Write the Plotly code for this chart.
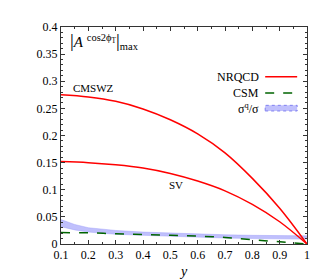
import plotly.graph_objects as go

x_vals = [0.1, 0.2, 0.3, 0.4, 0.5, 0.6, 0.7, 0.8, 0.9, 1.0]
cmswz = [0.275, 0.271, 0.263, 0.249, 0.229, 0.203, 0.168, 0.121, 0.066, 0.0]
sv = [0.152, 0.150, 0.146, 0.140, 0.130, 0.116, 0.098, 0.073, 0.041, 0.0]
csm = [0.021, 0.0205, 0.019, 0.0175, 0.016, 0.0145, 0.012, 0.0078, 0.004, 0.0]
band_x = [0.1, 0.15, 0.2, 0.3, 0.4, 0.5, 0.6, 0.7, 0.8, 0.9, 1.0]
band_lo = [0.032, 0.026, 0.022, 0.018, 0.016, 0.014, 0.012, 0.011, 0.010, 0.009, 0.009]
band_hi = [0.045, 0.036, 0.030, 0.025, 0.022, 0.020, 0.018, 0.017, 0.016, 0.015, 0.015]

FONT = "Liberation Serif"
RED = "#ff0000"
GREEN = "#006400"
BLUE_FILL = "rgba(150,150,250,0.6)"

fig = go.Figure()
fig.add_trace(go.Scatter(x=band_x, y=band_lo, mode="lines",
                         line=dict(color="rgba(150,150,250,0.8)", width=0.5),
                         showlegend=False, hoverinfo="skip"))
fig.add_trace(go.Scatter(x=band_x, y=band_hi, mode="lines", fill="tonexty",
                         fillcolor=BLUE_FILL,
                         line=dict(color="rgba(150,150,250,0.8)", width=0.5),
                         showlegend=False))
fig.add_trace(go.Scatter(x=x_vals, y=csm, mode="lines",
                         line=dict(color=GREEN, width=1.5, dash="dash", shape="spline"),
                         showlegend=False))
fig.add_trace(go.Scatter(x=x_vals, y=cmswz, mode="lines",
                         line=dict(color=RED, width=1.5, shape="spline"),
                         showlegend=False))
fig.add_trace(go.Scatter(x=x_vals, y=sv, mode="lines",
                         line=dict(color=RED, width=1.5, shape="spline"),
                         showlegend=False))

axis_common = dict(showline=True, linecolor="#333", linewidth=1, mirror="ticks",
                   ticks="inside", ticklen=4, tickcolor="#333", showgrid=False,
                   zeroline=False, tickfont=dict(family=FONT, size=12, color="black"))

fig.update_xaxes(range=[0.1, 1.0], dtick=0.1, tick0=0.1,
                 minor=dict(dtick=0.05, ticklen=2, tickcolor="#333", ticks="inside"),
                 title=dict(text="<i>y</i>", font=dict(family=FONT, size=14, color="black"),
                            standoff=4),
                 **axis_common)
fig.update_yaxes(range=[0, 0.4], dtick=0.05, tick0=0,
                 minor=dict(dtick=0.01, ticklen=2, tickcolor="#333", ticks="inside"),
                 **axis_common)

annotations = [
    dict(x=0.03, y=0.935, xref="paper", yref="paper", xanchor="left", yanchor="middle",
         text="<span style='font-size:19px'>|</span><i>A</i> <sup>cos2ϕ<sub>T</sub></sup>"
              "<span style='font-size:19px'>|</span><sub>max</sub>",
         showarrow=False, font=dict(family=FONT, size=15, color="black")),
    dict(x=0.22, y=0.288, xref="x", yref="y", text="CMSWZ", showarrow=False,
         font=dict(family=FONT, size=11, color="black")),
    dict(x=0.52, y=0.109, xref="x", yref="y", text="SV", showarrow=False,
         font=dict(family=FONT, size=11, color="black")),
]
leg_items = [("NRQCD", 0.771), ("CSM", 0.696), ("σ<sup>q</sup>/σ", 0.626)]
for txt, yy in leg_items:
    annotations.append(dict(x=0.815, y=yy, xref="paper", yref="paper", xanchor="right",
                            yanchor="middle", text=txt, showarrow=False,
                            font=dict(family=FONT, size=12, color="black")))

shapes = [
    dict(type="line", xref="paper", yref="paper", x0=0.83, x1=0.96, y0=0.771, y1=0.771,
         line=dict(color=RED, width=1.5)),
    dict(type="line", xref="paper", yref="paper", x0=0.83, x1=0.96, y0=0.696, y1=0.696,
         line=dict(color=GREEN, width=1.5, dash="dash")),
    dict(type="rect", xref="paper", yref="paper", x0=0.83, x1=0.96, y0=0.613, y1=0.639,
         fillcolor=BLUE_FILL, line=dict(color="rgba(120,120,240,0.9)", width=1, dash="dot")),
]

fig.update_layout(width=320, height=280, margin=dict(l=53, r=21, t=14, b=39),
                  plot_bgcolor="white", paper_bgcolor="white",
                  annotations=annotations, shapes=shapes, showlegend=False)

fig.write_html("out.html")
